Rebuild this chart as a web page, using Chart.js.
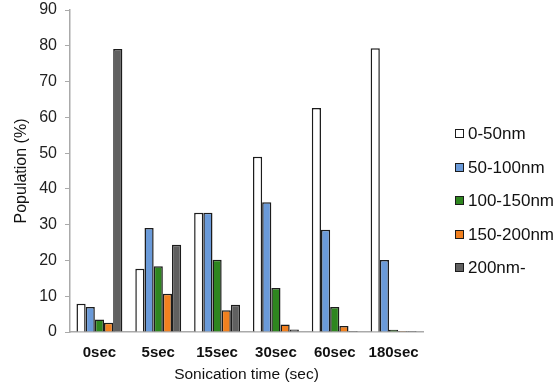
<!DOCTYPE html>
<html>
<head>
<meta charset="utf-8">
<script src="https://cdn.jsdelivr.net/npm/chart.js@4/dist/chart.umd.min.js"></script>
<style>
  html, body { margin: 0; padding: 0; background: #fff; }
  #wrap { width: 559px; height: 385px; position: relative; }
  #legend { position: absolute; left: 455px; top: 123px; margin: 0; padding: 0; list-style: none;
            font-family: 'Liberation Sans', Arial, sans-serif; font-size: 17px; color: #111; }
  #legend li { height: 33.5px; line-height: 22px; white-space: nowrap; }
  #legend span { display: inline-block; width: 7px; height: 7px; border: 1px solid #1c1c1c;
                 margin-right: 4px; vertical-align: 1px; }
</style>
</head>
<body>
<div id="wrap"><canvas id="chart"></canvas><ul id="legend"></ul></div>
<script>
// Categories and series (population %)
const times = ["0sec", "5sec", "15sec", "30sec", "60sec", "180sec"];
const size0to50 = [7.9, 17.7, 33.3, 49.0, 62.6, 79.3];
const size50to100 = [7.0, 29.1, 33.3, 36.3, 28.6, 20.1];
const size100to150 = [3.5, 18.4, 20.2, 12.3, 7.0, 0.6];
const size150to200 = [2.6, 10.7, 6.1, 2.1, 1.7, 0.3];
const size200plus = [79.1, 24.4, 7.6, 0.7, 0.3, 0.3];
const yTicks = [0, 10, 20, 30, 40, 50, 60, 70, 80, 90];

const font = "'Liberation Sans', Arial, sans-serif";

function series(label, data, color) {
    return {
        label,
        data,
        backgroundColor: color,
        borderColor: "#1c1c1c",
        borderWidth: 1.5,
        categoryPercentage: 0.78,
        barPercentage: 1.0,
    };
}

const chart = new Chart(document.getElementById("chart"), {
    type: "bar",
    data: {
        labels: times,
        datasets: [
            series("0-50nm", size0to50, "#ffffff"),
            series("50-100nm", size50to100, "#6a9ad9"),
            series("100-150nm", size100to150, "#2e861f"),
            series("150-200nm", size150to200, "#f1801f"),
            series("200nm-", size200plus, "#606060"),
        ],
    },
    options: {
        responsive: true,
        maintainAspectRatio: false,
        animation: false,
        layout: { padding: { top: 0, left: 12, right: 136, bottom: 1 } },
        scales: {
            x: {
                grid: { display: false, drawTicks: false },
                border: { color: "#aaaaaa", width: 1.5 },
                ticks: { color: "#111", font: { family: font, size: 15, weight: "bold" }, padding: 12, maxRotation: 0 },
                title: {
                    display: true,
                    text: "Sonication time (sec)",
                    color: "#111",
                    font: { family: font, size: 15.5 },
                    padding: { top: 2, bottom: 0 },
                },
                // keep the axis band at the reference height
                afterFit(axis) { axis.height = 52; },
            },
            y: {
                min: 0,
                max: 90,
                afterBuildTicks(axis) { axis.ticks = yTicks.map(v => ({ value: v })); },
                afterFit(axis) { axis.paddingTop = 10; },
                grid: { drawOnChartArea: false, drawTicks: true, tickLength: 5, color: "#aaaaaa" },
                border: { color: "#aaaaaa", width: 1.5 },
                ticks: { color: "#222", font: { family: font, size: 16 }, padding: 8 },
                title: {
                    display: true,
                    text: "Population (%)",
                    color: "#111",
                    font: { family: font, size: 16 },
                    padding: { top: 0, bottom: 0 },
                },
            },
        },
        plugins: {
            legend: { display: false },
            tooltip: { enabled: false },
        },
    },
});

// HTML legend built from the datasets
const legend = document.getElementById("legend");
chart.data.datasets.forEach(ds => {
    const li = document.createElement("li");
    const box = document.createElement("span");
    box.style.background = ds.backgroundColor;
    li.appendChild(box);
    li.appendChild(document.createTextNode(ds.label));
    legend.appendChild(li);
});
</script>
</body>
</html>
